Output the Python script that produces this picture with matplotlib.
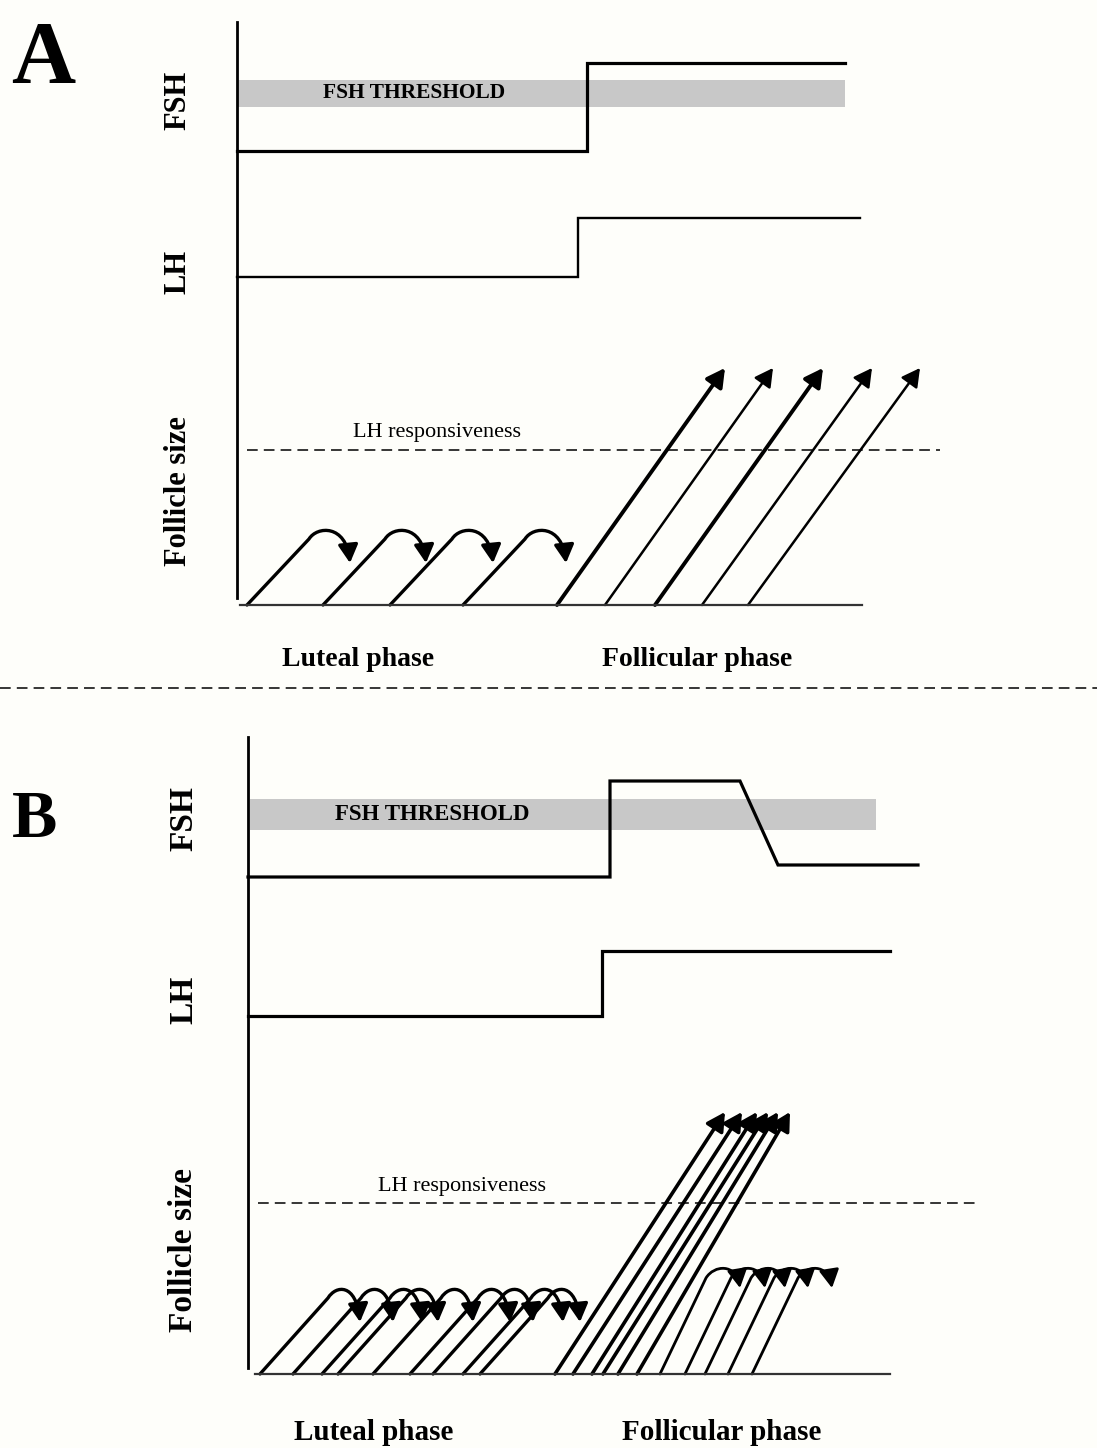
import matplotlib
matplotlib.use("Agg")
import matplotlib.pyplot as plt
from matplotlib.patches import FancyArrowPatch, Rectangle
from matplotlib.path import Path

plt.rcParams['font.family'] = ['Liberation Serif', 'DejaVu Serif']

W, H = 1097, 1448
BG = '#fefefa'

# ---- panel A (image coordinates, y grows downwards) ----
A_axis_x, A_axis_y = 237, (22, 598)
A_band_x, A_band_y = (237, 845), (80, 107)
A_fsh_x = [237, 587, 587, 845]
A_fsh_y = [151, 151, 63, 63]
A_lh_x = [237, 578, 578, 860]
A_lh_y = [277, 277, 218, 218]
A_base_x, A_base_y = (240, 862), 605
A_resp_x, A_resp_y = (247, 940), 450
A_luteal_starts = [247, 323, 390, 463]
A_foll_starts = [557, 605, 655, 702, 748]
A_foll_tips = [725, 773, 823, 872, 920]
A_foll_tip_y = 368
A_foll_lw = [2.8, 1.8, 2.8, 1.8, 1.8]

# ---- panel B ----
B_axis_x, B_axis_y = 248, (737, 1368)
B_band_x, B_band_y = (250, 876), (799, 830)
B_fsh_x = [248, 610, 610, 740, 778, 918]
B_fsh_y = [877, 877, 781, 781, 865, 865]
B_lh_x = [248, 602, 602, 890]
B_lh_y = [1016, 1016, 951, 951]
B_base_x, B_base_y = (255, 890), 1374
B_resp_x, B_resp_y = (258, 975), 1203
B_luteal_starts = [260, 293, 322, 338, 373, 410, 433, 463, 480]
B_foll_starts = [555, 573, 592, 603, 618, 637]
B_foll_tips = [725, 742, 757, 768, 778, 790]
B_foll_tip_y = 1112
B_plateau_starts = [660, 685, 705, 728, 752]

sep_y = 688

fig = plt.figure(figsize=(W / 100, H / 100), dpi=100, facecolor=BG)
ax = fig.add_axes([0, 0, 1, 1])
ax.set_xlim(0, W)
ax.set_ylim(H, 0)
ax.axis('off')
ax.set_facecolor(BG)

HEAD = '-|>,head_length=0.55,head_width=0.3'


def hook(x0, base, rise_dx, rise_dy, tip_dx, tip_dy, lw):
    # straight rise, then arc over the top and down into an arrow head
    lx, ly = x0 + rise_dx, base - rise_dy
    verts = [(x0, base), (lx, ly),
             (lx + 8, ly - 13),
             (x0 + tip_dx - 4, ly - 15),
             (x0 + tip_dx, base - tip_dy)]
    codes = [Path.MOVETO, Path.LINETO, Path.CURVE4, Path.CURVE4, Path.CURVE4]
    ax.add_patch(FancyArrowPatch(path=Path(verts, codes), arrowstyle=HEAD,
                                 mutation_scale=20, lw=lw, color='black',
                                 joinstyle='round', capstyle='round'))


def arrow(x0, y0, x1, y1, lw):
    ax.add_patch(FancyArrowPatch((x0, y0), (x1, y1), shrinkA=0, shrinkB=0,
                                 arrowstyle=HEAD, mutation_scale=20, lw=lw,
                                 color='black'))


def panel(axis_x, axis_y, band_x, band_y, fsh_x, fsh_y, lh_x, lh_y,
          base_x, base_y, resp_x, resp_y, fsh_lw, lh_lw):
    ax.add_patch(Rectangle((band_x[0], band_y[0]), band_x[1] - band_x[0],
                           band_y[1] - band_y[0], color='#c8c8c8', lw=0))
    ax.plot([axis_x, axis_x], axis_y, color='black', lw=2)
    ax.plot(fsh_x, fsh_y, color='black', lw=fsh_lw, solid_joinstyle='miter')
    ax.plot(lh_x, lh_y, color='black', lw=lh_lw, solid_joinstyle='miter')
    ax.plot(base_x, [base_y, base_y], color='#333333', lw=1.6)
    ax.plot(resp_x, [resp_y, resp_y], color='black', lw=1.1, dashes=(7, 4))


panel(A_axis_x, A_axis_y, A_band_x, A_band_y, A_fsh_x, A_fsh_y, A_lh_x, A_lh_y,
      A_base_x, A_base_y, A_resp_x, A_resp_y, 2.3, 1.7)
panel(B_axis_x, B_axis_y, B_band_x, B_band_y, B_fsh_x, B_fsh_y, B_lh_x, B_lh_y,
      B_base_x, B_base_y, B_resp_x, B_resp_y, 2.3, 2.3)

# follicle waves, panel A
for x0 in A_luteal_starts:
    hook(x0, A_base_y, 62, 66, 103, 42, 2.4)
for x0, xt, lw in zip(A_foll_starts, A_foll_tips, A_foll_lw):
    arrow(x0, A_base_y, xt, A_foll_tip_y, lw)

# follicle waves, panel B
for x0 in B_luteal_starts:
    hook(x0, B_base_y, 68, 76, 100, 52, 2.4)
for x0, xt in zip(B_foll_starts, B_foll_tips):
    arrow(x0, B_base_y, xt, B_foll_tip_y, 2.6)
for x0 in B_plateau_starts:
    hook(x0, B_base_y, 46, 96, 80, 86, 2.0)

# separator
ax.plot([0, W], [sep_y, sep_y], color='black', lw=1.1, dashes=(7, 4))

# text
bold = dict(fontweight='bold', ha='center', va='center', color='black')
ax.text(43, 82, 'A', fontsize=64, fontweight='bold', ha='center', va='baseline')
ax.text(35, 837, 'B', fontsize=49, fontweight='bold', ha='center', va='baseline')

ax.text(178, 100, 'FSH', fontsize=22, rotation=90, **bold)
ax.text(178, 272, 'LH', fontsize=22, rotation=90, **bold)
ax.text(178, 491, 'Follicle size', fontsize=22, rotation=90, **bold)
ax.text(184, 819, 'FSH', fontsize=24, rotation=90, **bold)
ax.text(184, 1000, 'LH', fontsize=24, rotation=90, **bold)
ax.text(184, 1250, 'Follicle size', fontsize=24, rotation=90, **bold)

ax.text(414, 93, 'FSH THRESHOLD', fontsize=15.5, **bold)
ax.text(432, 814, 'FSH THRESHOLD', fontsize=16.5, **bold)

ax.text(437, 433, 'LH responsiveness', fontsize=16, ha='center', va='center')
ax.text(462, 1187, 'LH responsiveness', fontsize=16, ha='center', va='center')

ax.text(358, 660, 'Luteal phase', fontsize=20, **bold)
ax.text(697, 660, 'Follicular phase', fontsize=20, **bold)
ax.text(374, 1432, 'Luteal phase', fontsize=21, **bold)
ax.text(722, 1432, 'Follicular phase', fontsize=21, **bold)

fig.savefig('out.png', dpi=100, facecolor=BG)
